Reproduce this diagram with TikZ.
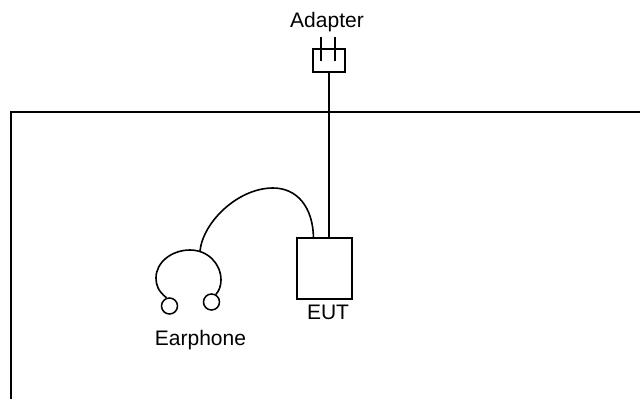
\documentclass[tikz,border=0pt]{standalone}
\usepackage{fontspec}
\setmainfont{Liberation Sans}
\begin{document}
\begin{tikzpicture}[x=1pt,y=-1pt,
  wire/.style={line width=1.6pt,black},
  prong/.style={line width=1.2pt,black},
  boxnode/.style={draw=black,line width=1.6pt,inner sep=0pt,fill=none},
  ear/.style={draw=black,line width=1.5pt,circle,inner sep=0pt,minimum size=16pt},
  lab/.style={inner sep=0pt,font=\fontsize{21}{23}\selectfont,text=black}]
\useasboundingbox (0,0) rectangle (640,399);
% outer frame
\coordinate (fb) at (11,399);
\coordinate (fc) at (11,112);
\coordinate (fe) at (640,112);
\draw[line width=1.5pt,black] (fb) -- (fc) -- (fe);
% adapter
\node[boxnode,minimum width=32pt,minimum height=23pt] (adapter) at (329,60.5) {};
\coordinate (p1t) at (321,37); \coordinate (p1b) at (321,61);
\coordinate (p2t) at (335,37); \coordinate (p2b) at (335,61);
\draw[prong] (p1t) -- (p1b);
\draw[prong] (p2t) -- (p2b);
\node[lab] (adlabel) at (327,22) {Adapter};
% EUT
\node[boxnode,minimum width=55pt,minimum height=61pt] (eut) at (324.5,268.5) {};
\node[lab] (eutlabel) at (328,312) {EUT};
\draw[wire] (adapter.south) -- (adapter.south |- eut.north);
% earphones
\node[ear] (e1) at (169.5,306) {};
\node[ear] (e2) at (211.5,302) {};
\coordinate (top) at (200,251);
\coordinate (cj) at (313.5,238);
\draw[wire] (e1.110) .. controls (158,291) and (156,285) .. (156,278)
  .. controls (156,262) and (172,250) .. (190,250)
  .. controls (208,250) and (221,264) .. (221,280)
  .. controls (221,286) and (219,291) .. (e2.60);
\draw[wire] (top) .. controls (203,222) and (238,188) .. (273,188)
  .. controls (297,188) and (313,207) .. (cj);
\node[lab] (earlabel) at (200.5,340) {Earphone};
\end{tikzpicture}
\end{document}
